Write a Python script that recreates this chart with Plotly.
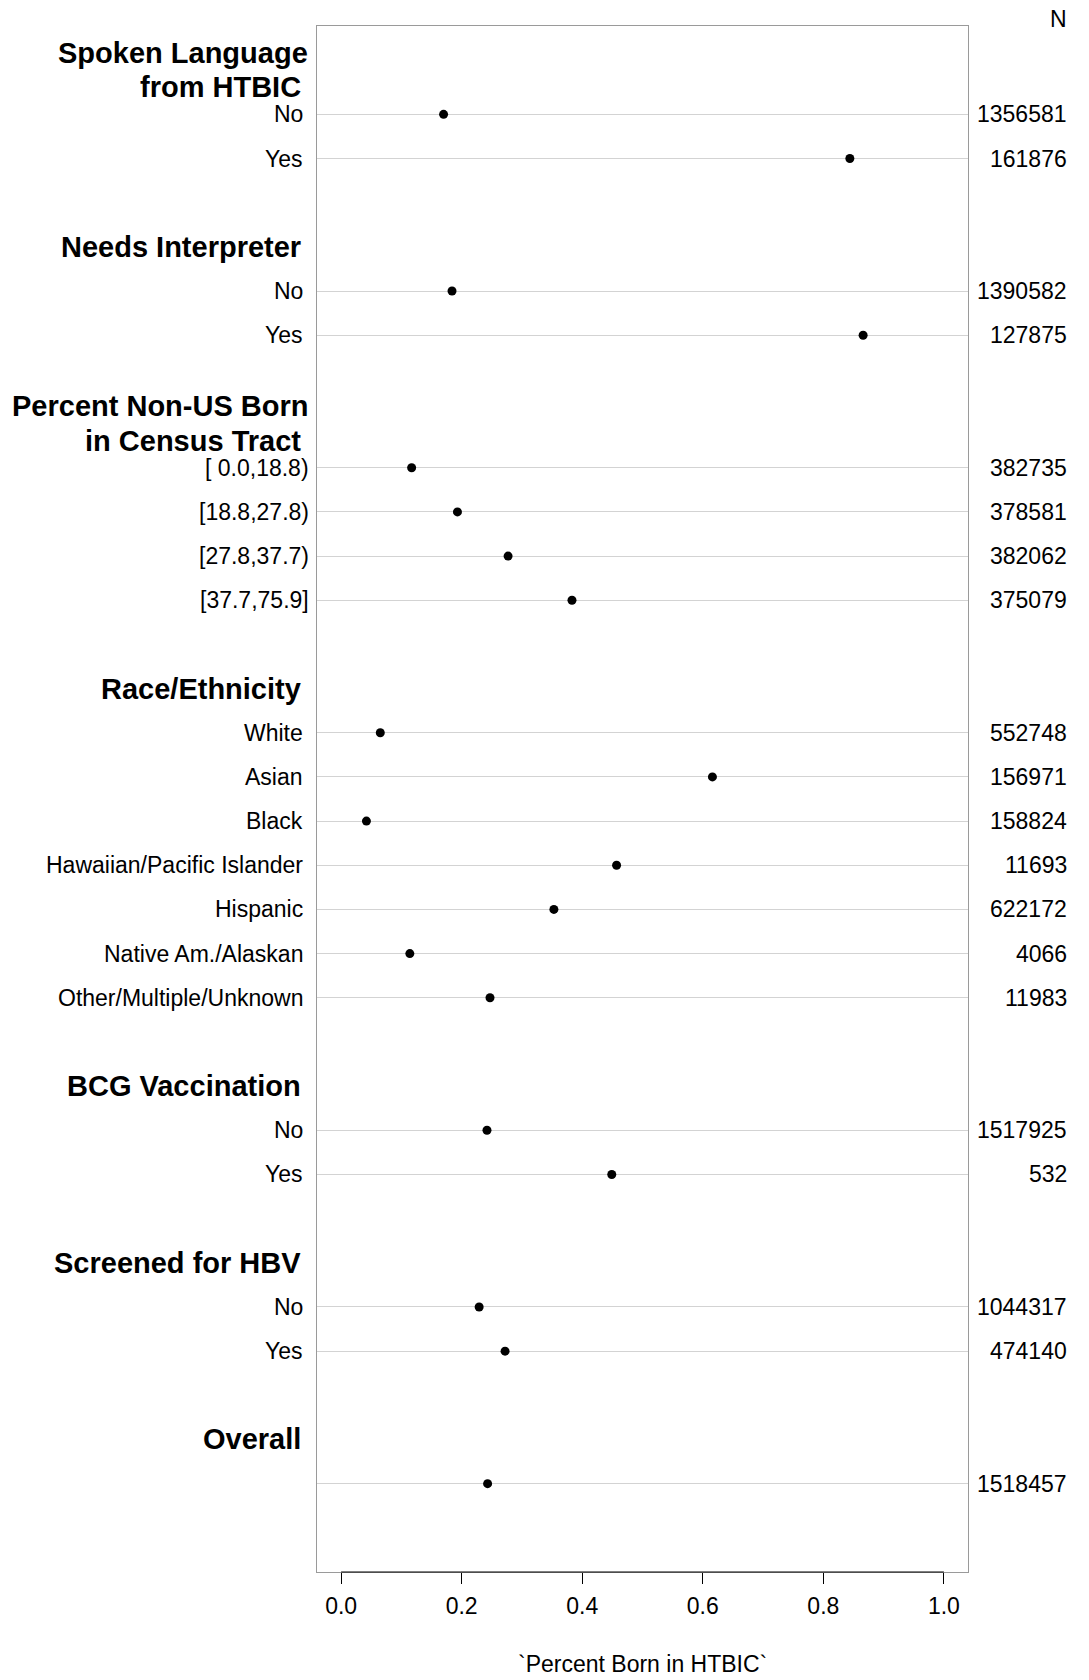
import plotly.graph_objects as go

# ---- data ----
group_titles = [
    ["Spoken Language", "from HTBIC"],
    ["Needs Interpreter"],
    ["Percent Non-US Born", "in Census Tract"],
    ["Race/Ethnicity"],
    ["BCG Vaccination"],
    ["Screened for HBV"],
    ["Overall"],
]
group_labels = [
    ["No", "Yes"],
    ["No", "Yes"],
    ["[ 0.0,18.8)", "[18.8,27.8)", "[27.8,37.7)", "[37.7,75.9]"],
    ["White", "Asian", "Black", "Hawaiian/Pacific Islander", "Hispanic",
     "Native Am./Alaskan", "Other/Multiple/Unknown"],
    ["No", "Yes"],
    ["No", "Yes"],
    [""],
]
group_values = [
    [0.170, 0.844],
    [0.184, 0.866],
    [0.117, 0.193, 0.277, 0.383],
    [0.065, 0.616, 0.042, 0.457, 0.353, 0.114, 0.247],
    [0.242, 0.449],
    [0.229, 0.272],
    [0.243],
]
group_n = [
    ["1356581", "161876"],
    ["1390582", "127875"],
    ["382735", "378581", "382062", "375079"],
    ["552748", "156971", "158824", "11693", "622172", "4066", "11983"],
    ["1517925", "532"],
    ["1044317", "474140"],
    ["1518457"],
]
x_ticks = [0.0, 0.2, 0.4, 0.6, 0.8, 1.0]
x_ticktext = ["0.0", "0.2", "0.4", "0.6", "0.8", "1.0"]
x_title = "`Percent Born in HTBIC`"

# ---- layout geometry ----
W, H = 1089, 1680
ML, MR, MT, MB = 317, 121, 26, 108
PW, PH = W - ML - MR, H - MT - MB

def pxx(px):  # pixel x -> paper x
    return (px - ML) / PW

def pxy(py):  # pixel y (from top) -> paper y
    return 1 - (py - MT) / PH

FONT = "Liberation Sans, Arial, Helvetica, sans-serif"

rows_y, rows_x, rows_lab, rows_n = [], [], [], []
header_rows = []
k = 0
for titles, labs, vals, ns in zip(group_titles, group_labels, group_values, group_n):
    k += 1
    header_rows.append((k, titles))
    for lab, v, n in zip(labs, vals, ns):
        k += 1
        rows_y.append(k)
        rows_x.append(v)
        rows_lab.append(lab)
        rows_n.append(n)
    k += 1  # blank row
n_rows = 35

fig = go.Figure()
fig.add_trace(go.Scatter(
    x=rows_x, y=rows_y, mode="markers",
    marker=dict(color="black", size=9),
    showlegend=False, hoverinfo="x",
))

ann = []
hfont = dict(family=FONT, size=29, color="black")
lfont = dict(family=FONT, size=23, color="black")
D = 3  # annotation box padding compensation
for kk, titles in header_rows:
    if len(titles) == 2:
        ann.append(dict(x=pxx(307 + D), y=kk - 0.39, xref="paper", yref="y",
                        text="<b>%s</b>" % titles[0], xanchor="right", yanchor="middle",
                        showarrow=False, font=hfont))
        ann.append(dict(x=pxx(300 + D), y=kk + 0.39, xref="paper", yref="y",
                        text="<b>%s</b>" % titles[1], xanchor="right", yanchor="middle",
                        showarrow=False, font=hfont))
    else:
        ann.append(dict(x=pxx(300 + D), y=kk, xref="paper", yref="y",
                        text="<b>%s</b>" % titles[0], xanchor="right", yanchor="middle",
                        showarrow=False, font=hfont))
for yy, lab, n in zip(rows_y, rows_lab, rows_n):
    if lab:
        xr = 308 if lab.startswith("[") else 302
        ann.append(dict(x=pxx(xr + D), y=yy, xref="paper", yref="y", text=lab,
                        xanchor="right", yanchor="middle", showarrow=False, font=lfont))
    ann.append(dict(x=pxx(1066 + D), y=yy, xref="paper", yref="y", text=n,
                    xanchor="right", yanchor="middle", showarrow=False, font=lfont))
ann.append(dict(x=pxx(1066 + D), y=pxy(19), xref="paper", yref="paper", text="N",
                xanchor="right", yanchor="middle", showarrow=False, font=lfont))
ann.append(dict(x=pxx(642), y=pxy(1664), xref="paper", yref="paper", text=x_title,
                xanchor="center", yanchor="middle", showarrow=False, font=lfont))

fig.update_layout(
    width=W, height=H,
    margin=dict(l=ML, r=MR, t=MT, b=MB, pad=0),
    paper_bgcolor="white", plot_bgcolor="white",
    annotations=ann,
    xaxis=dict(
        range=[-0.04, 1.04], tickvals=x_ticks, ticktext=x_ticktext,
        ticks="outside", ticklen=11, tickwidth=1.2, tickcolor="black",
        showgrid=False, zeroline=False, automargin=False,
        showline=True, mirror=True, linecolor="#9a9a9a", linewidth=1.3,
        tickfont=dict(family=FONT, size=23, color="black"),
        ticklabelstandoff=2,
    ),
    yaxis=dict(
        range=[n_rows, 0], tickvals=rows_y, showticklabels=False, ticks="",
        showgrid=True, gridcolor="#d3d3d3", gridwidth=1.3, zeroline=False,
        showline=True, mirror=True, linecolor="#9a9a9a", linewidth=1.3,
        automargin=False,
    ),
    shapes=[dict(type="line", xref="x", yref="paper", x0=0, x1=1, y0=0, y1=0,
                 line=dict(color="black", width=1.2), layer="above")],
)

fig.write_html("out.html", config={"displayModeBar": False},
               post_script="document.body.style.margin='0';document.body.style.padding='0';")
